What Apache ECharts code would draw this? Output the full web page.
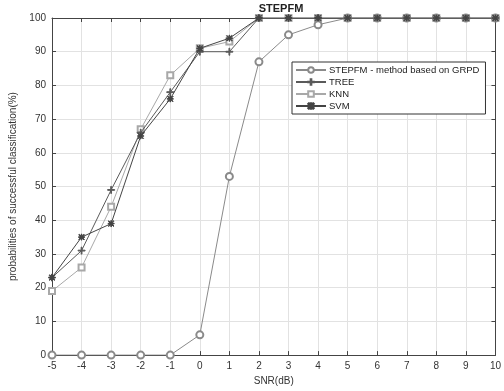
<!DOCTYPE html>
<html><head><meta charset="utf-8">
<script src="https://cdn.jsdelivr.net/npm/echarts@6/dist/echarts.min.js"></script>
<style>html,body{margin:0;padding:0;background:#fff}#c{width:504px;height:391px}</style>
</head><body><div id="c"></div>
<script>
const snr = [-5,-4,-3,-2,-1,0,1,2,3,4,5,6,7,8,9,10];
const stepfm = [0,0,0,0,0,6,53,87,95,98,100,100,100,100,100,100];
const tree = [23,31,49,66,78,90,90,100,100,100,100,100,100,100,100,100];
const knn = [19,26,44,67,83,91,93,100,100,100,100,100,100,100,100,100];
const svm = [23,35,39,65,76,91,94,100,100,100,100,100,100,100,100,100];
const names = ['STEPFM - method based on GRPD','TREE','KNN','SVM'];
const yTicks = [0,10,20,30,40,50,60,70,80,90,100];

const pair = arr => snr.map((x,i)=>[x,arr[i]]);
const plus = 'path://M4.4,0h1.2v10h-1.2z M0,4.4h10v1.2h-10z';
const star = 'path://M4.4,0h1.2v10h-1.2z M0,4.4h10v1.2h-10z M1,0.2L9.8,9L9,9.8L0.2,1Z M9,0.2L9.8,1L1,9.8L0.2,9Z';
const font = 'Liberation Sans';
const chart = echarts.init(document.getElementById('c'));
const mk = (name, data, color, symbol, size, z) => ({
  name, type:'line', data:pair(data), symbol, symbolSize:size, z,
  lineStyle:{color, width:1}, itemStyle:{color, borderColor:color, borderWidth:1},
  emphasis:{disabled:true}, animation:false
});
const axLine = {show:true, onZero:false, lineStyle:{color:'#444'}};
chart.setOption({
  animation:false,
  textStyle:{fontFamily:font},
  title:{text:'STEPFM', left:276, textAlign:'center', top:-2, textStyle:{fontFamily:font, fontSize:11, fontWeight:'bold', color:'#222'}},
  grid:{left:52, right:4, top:18, bottom:30},
  legend:{orient:'vertical', left:292, top:62, itemWidth:30, itemHeight:7, itemGap:2,
    padding:[3,6,3,3], borderColor:'#333', borderWidth:1, backgroundColor:'#fff',
    textStyle:{fontFamily:font, fontSize:9.5, color:'#222', padding:[0,0,0,-2]}, data:names},
  xAxis:[{type:'value', min:-5, max:10, interval:1, name:'SNR(dB)', nameLocation:'middle', nameGap:19,
    nameTextStyle:{fontFamily:font, fontSize:10, color:'#333'},
    axisLine:axLine, axisTick:{show:true, inside:true, length:4, lineStyle:{color:'#444'}},
    axisLabel:{fontFamily:font, fontSize:10, color:'#333', margin:6},
    splitLine:{show:true, lineStyle:{color:'#e2e2e2'}}},
   {type:'value', position:'top', min:-5, max:10, interval:1, axisLine:axLine,
    axisTick:{show:true, inside:true, length:4, lineStyle:{color:'#444'}}, axisLabel:{show:false}, splitLine:{show:false}}],
  yAxis:[{type:'value', min:0, max:100, interval:10,
    name:'probabilities of successful classification(%)', nameLocation:'middle', nameGap:32,
    nameTextStyle:{fontFamily:font, fontSize:10, color:'#333'},
    axisLine:axLine, axisTick:{show:true, inside:true, length:4, lineStyle:{color:'#444'}},
    axisLabel:{fontFamily:font, fontSize:10, color:'#333', margin:6, formatter:v=>yTicks.includes(v)?String(v):''},
    splitLine:{show:true, lineStyle:{color:'#e2e2e2'}}},
   {type:'value', position:'right', min:0, max:100, interval:10, axisLine:axLine,
    axisTick:{show:true, inside:true, length:4, lineStyle:{color:'#444'}}, axisLabel:{show:false}, splitLine:{show:false}}],
  series:[
    mk(names[0], stepfm, '#8a8a8a', 'emptyCircle', 7, 4),
    mk(names[1], tree, '#5a5a5a', plus, 7, 3),
    mk(names[2], knn, '#a8a8a8', 'emptyRect', 6, 2),
    mk(names[3], svm, '#444444', star, 6, 5)
  ]
});
</script></body></html>
